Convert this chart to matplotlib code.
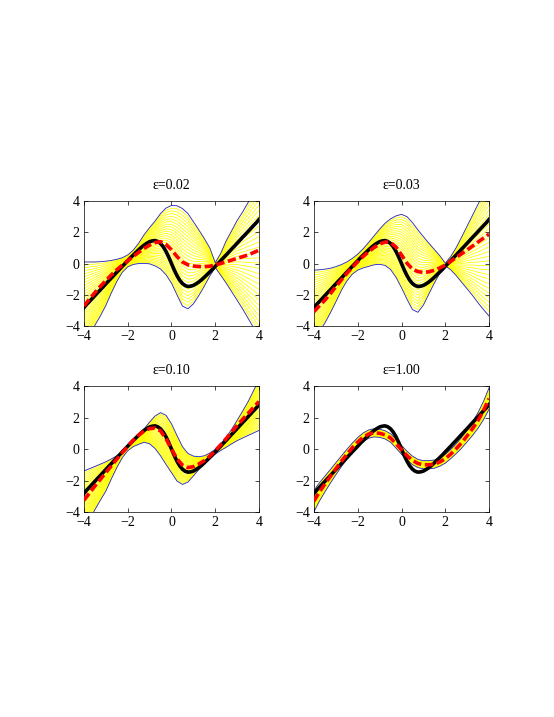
import matplotlib
matplotlib.use('Agg')
import matplotlib.pyplot as plt
import numpy as np

plt.rcParams['font.family'] = ['Liberation Serif', 'DejaVu Serif']

# common x grid (step 0.25 from -4 to 4) for the model curves
x = np.linspace(-4, 4, 33)
# finer grid (step 0.125) for the true function
x_true = np.linspace(-4, 4, 65)

titles = ['ε=0.02', 'ε=0.03', 'ε=0.10', 'ε=1.00']
ticks = [-4, -2, 0, 2, 4]

# true function (black)
true_f = [-2.82, -2.61, -2.43, -2.24, -2.05, -1.86, -1.68, -1.49, -1.30, -1.11,
          -0.93, -0.74, -0.55, -0.37, -0.18, 0.00, 0.18, 0.37, 0.54, 0.71,
          0.88, 1.04, 1.18, 1.30, 1.40, 1.45, 1.47, 1.41, 1.28, 1.07, 0.77,
          0.41, 0.00, -0.41, -0.77, -1.07, -1.28, -1.41, -1.47, -1.45, -1.40,
          -1.30, -1.18, -1.04, -0.88, -0.71, -0.54, -0.37, -0.18, 0.00, 0.18,
          0.37, 0.55, 0.74, 0.93, 1.11, 1.30, 1.49, 1.68, 1.86, 2.05, 2.24,
          2.43, 2.61, 2.82]

# panel 1 (eps=0.02)
mean1 = [-2.72, -2.27, -1.86, -1.46, -1.09, -0.73, -0.40, -0.10, 0.18, 0.45, 0.72,
         0.97, 1.18, 1.34, 1.40, 1.22, 0.88, 0.45, 0.10, -0.08, -0.16, -0.19,
         -0.20, -0.17, -0.10, 0.00, 0.11, 0.22, 0.33, 0.44, 0.55, 0.70, 0.86]
upper1 = [0.10, 0.10, 0.10, 0.12, 0.15, 0.20, 0.27, 0.37, 0.55, 0.85, 1.30,
          1.85, 2.30, 2.72, 3.20, 3.55, 3.72, 3.70, 3.52, 3.20, 2.68, 2.15,
          1.60, 1.00, 0.05, 0.65, 1.45, 2.10, 2.75, 3.30, 3.90, 4.50, 5.10]
lower1 = [-5.40, -4.70, -3.95, -3.35, -2.68, -1.88, -1.15, -0.56, -0.21, -0.06, 0.00,
          0.01, -0.02, -0.15, -0.35, -0.72, -1.25, -2.00, -2.72, -2.90, -2.58, -2.05,
          -1.45, -0.80, -0.25, -0.75, -1.25, -1.80, -2.35, -2.90, -3.50, -4.10, -4.70]

# panel 2 (eps=0.03)
mean2 = [-3.08, -2.70, -2.34, -1.92, -1.48, -1.05, -0.63, -0.24, 0.12, 0.46, 0.76,
         1.03, 1.25, 1.38, 1.35, 1.05, 0.55, 0.02, -0.36, -0.52, -0.57, -0.53,
         -0.43, -0.28, -0.10, 0.14, 0.39, 0.63, 0.87, 1.12, 1.38, 1.63, 1.88]
upper2 = [-0.42, -0.40, -0.36, -0.30, -0.20, -0.07, 0.10, 0.33, 0.60, 0.95, 1.35,
          1.78, 2.20, 2.58, 2.86, 3.05, 3.15, 3.00, 2.62, 2.15, 1.72, 1.30,
          0.90, 0.50, 0.02, 0.45, 1.02, 1.70, 2.40, 3.10, 3.80, 4.50, 5.20]
lower2 = [-5.00, -4.35, -3.80, -3.15, -2.45, -1.72, -1.12, -0.68, -0.42, -0.28, -0.18,
          -0.08, -0.05, -0.12, -0.38, -0.88, -1.55, -2.28, -2.95, -3.12, -2.66, -1.95,
          -1.25, -0.62, -0.15, -0.40, -0.77, -1.20, -1.62, -2.05, -2.52, -2.95, -3.36]

# panel 3 (eps=0.10)
mean3 = [-3.25, -2.80, -2.35, -1.92, -1.50, -1.07, -0.64, -0.23, 0.17, 0.55, 0.88,
         1.15, 1.30, 1.33, 1.15, 0.65, 0.00, -0.62, -1.02, -1.18, -1.12, -0.95,
         -0.74, -0.45, -0.11, 0.27, 0.66, 1.08, 1.50, 1.88, 2.26, 2.64, 3.02]
upper3 = [-1.39, -1.25, -1.11, -0.96, -0.81, -0.63, -0.43, -0.18, 0.11, 0.46, 0.86,
          1.28, 1.71, 2.10, 2.31, 2.14, 1.60, 0.86, 0.15, -0.28, -0.45, -0.49,
          -0.43, -0.26, -0.02, 0.33, 0.75, 1.25, 1.82, 2.40, 3.00, 3.70, 4.40]
lower3 = [-5.20, -4.50, -3.85, -3.25, -2.67, -1.90, -1.18, -0.55, -0.11, 0.15, 0.30,
          0.43, 0.33, 0.03, -0.43, -0.98, -1.50, -2.03, -2.25, -2.10, -1.71, -1.30,
          -0.90, -0.58, -0.32, -0.09, 0.11, 0.33, 0.53, 0.70, 0.86, 1.02, 1.18]

# panel 4 (eps=1.00)
mean4 = [-3.30, -2.72, -2.22, -1.73, -1.25, -0.78, -0.34, 0.08, 0.45, 0.75, 0.95,
         1.03, 1.00, 0.90, 0.70, 0.34, -0.05, -0.42, -0.72, -0.92, -1.00, -1.00,
         -0.96, -0.82, -0.62, -0.32, 0.02, 0.40, 0.84, 1.30, 1.82, 2.45, 3.20]
upper4 = [-2.62, -2.14, -1.72, -1.30, -0.87, -0.44, -0.03, 0.37, 0.73, 1.02, 1.21,
          1.29, 1.26, 1.16, 0.97, 0.62, 0.23, -0.14, -0.45, -0.66, -0.74, -0.74,
          -0.70, -0.55, -0.34, -0.03, 0.33, 0.74, 1.22, 1.73, 2.32, 3.03, 3.88]
lower4 = [-3.98, -3.30, -2.72, -2.16, -1.63, -1.12, -0.65, -0.21, 0.17, 0.48, 0.69,
          0.77, 0.74, 0.64, 0.43, 0.06, -0.33, -0.70, -0.99, -1.18, -1.26, -1.26,
          -1.22, -1.09, -0.90, -0.61, -0.29, 0.06, 0.46, 0.87, 1.32, 1.87, 2.52]

means = [mean1, mean2, mean3, mean4]
uppers = [upper1, upper2, upper3, upper4]
lowers = [lower1, lower2, lower3, lower4]

N_LINES = 30

fig = plt.figure(figsize=(5.54, 7.17), dpi=100)
positions = [[0.1516, 0.5453, 0.3159, 0.1743],
             [0.5668, 0.5453, 0.3159, 0.1743],
             [0.1516, 0.2859, 0.3159, 0.1757],
             [0.5668, 0.2859, 0.3159, 0.1757]]

for i in range(4):
    ax = fig.add_axes(positions[i])
    lo = np.array(lowers[i])
    up = np.array(uppers[i])
    for t in np.linspace(0, 1, N_LINES):
        ax.plot(x, lo + t * (up - lo), color='#ffff00', lw=0.6, zorder=1)
    ax.plot(x, up, color='#2020ff', lw=0.6, zorder=2)
    ax.plot(x, lo, color='#2020ff', lw=0.6, zorder=2)
    ax.plot(x_true, true_f, color='black', lw=2.6, zorder=3,
            solid_joinstyle='round')
    ax.plot(x, means[i], color='#ff0000', lw=2.6, ls=(0, (2.3, 1.0)), zorder=4)
    ax.set_xlim(-4, 4)
    ax.set_ylim(-4, 4)
    ax.set_xticks(ticks)
    ax.set_yticks(ticks)
    ax.tick_params(direction='in', top=True, right=True, length=3, width=0.5,
                   labelsize=10, pad=3)
    for s in ax.spines.values():
        s.set_linewidth(0.5)
    ax.set_title(titles[i], fontsize=10, pad=9)

fig.savefig('out.png', dpi=100)
